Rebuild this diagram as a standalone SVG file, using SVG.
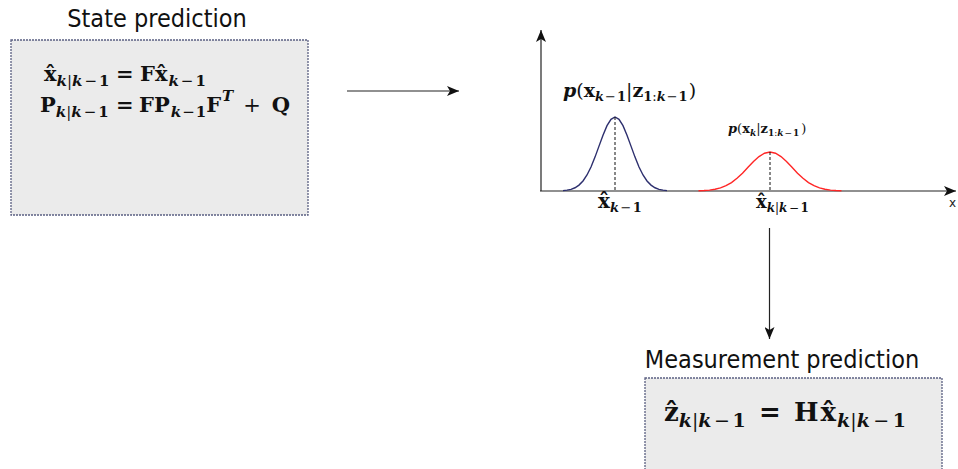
<svg xmlns="http://www.w3.org/2000/svg" width="958" height="469" viewBox="0 0 958 469">
<style>
.box{fill:#ebebeb;stroke:#5b6082;stroke-width:1.3;stroke-dasharray:2 1}
.title{font-family:"DejaVu Sans Condensed","DejaVu Sans",sans-serif;font-stretch:condensed;font-size:25px;fill:#111}
.m{font-family:"DejaVu Serif","Liberation Serif",serif;font-weight:bold;fill:#111}
.it{font-style:italic}
.rg{font-weight:normal}
.ax{stroke:#222;stroke-width:1.2;fill:none}
.dash{stroke:#111;stroke-width:1;stroke-dasharray:3 2}
.conn{stroke:#222;stroke-width:1.2;fill:none}
</style>
<defs>
<marker id="ah" viewBox="0 0 12 10" refX="12" refY="5" markerWidth="12" markerHeight="10" markerUnits="userSpaceOnUse" orient="auto">
<path d="M0,0 L12,5 L0,10 L3,5 Z" fill="#111"/>
</marker>
</defs>

<g id="state-prediction">
<text class="title" x="157" y="27" text-anchor="middle">State prediction</text>
<rect class="box" x="11" y="40" width="297" height="175"/>
<text class="m" font-size="21" x="44" y="81">x̂<tspan font-size="15" y="86"><tspan class="it">k</tspan><tspan class="rg">|</tspan><tspan class="it">k</tspan><tspan class="rg" dx="2">−</tspan><tspan dx="2">1</tspan></tspan><tspan x="116" y="81">=</tspan><tspan x="140" y="81">F</tspan><tspan>x̂</tspan><tspan font-size="15" y="86"><tspan class="it" dx="1">k</tspan><tspan class="rg" dx="2">−</tspan><tspan dx="2">1</tspan></tspan></text>
<text class="m" font-size="21" x="40" y="112">P<tspan font-size="15" y="117"><tspan class="it">k</tspan><tspan class="rg">|</tspan><tspan class="it">k</tspan><tspan class="rg" dx="2">−</tspan><tspan dx="2">1</tspan></tspan><tspan x="116" y="112">=</tspan><tspan x="139" y="112">F</tspan><tspan>P</tspan><tspan font-size="15" y="117"><tspan class="it" dx="1">k</tspan><tspan class="rg" dx="1">−</tspan><tspan dx="1">1</tspan></tspan><tspan y="112">F</tspan><tspan class="it" font-size="15" y="101" dx="1">T</tspan><tspan class="rg" y="112" dx="10">+</tspan><tspan dx="11">Q</tspan></text>
</g>

<g id="plot">
<line class="ax" x1="541" y1="191" x2="541" y2="30" marker-end="url(#ah)"/>
<line class="ax" x1="540" y1="191" x2="956" y2="191" marker-end="url(#ah)"/>
<text x="949" y="207" font-family="DejaVu Sans, sans-serif" font-size="12" fill="#222">x</text>
<polyline fill="none" stroke="#2d2f6e" stroke-width="1.4" points="563,190.62 567,190.18 571,189.31 575,187.75 579,185.11 583,181 587,175 591,166.97 595,157.12 599,146.12 603,135.14 607,125.69 611,119.28 615,117 619,119.28 623,125.69 627,135.14 631,146.12 635,157.12 639,166.97 643,175 647,181 651,185.11 655,187.75 659,189.31 663,190.18 667,190.62"/>
<polyline fill="none" stroke="#ff2626" stroke-width="1.4" points="698.5,190.8 704,190.57 709.5,190.11 715,189.29 720.5,187.9 726,185.72 731.5,182.56 737,178.34 742.5,173.15 748,167.35 753.5,161.56 759,156.58 764.5,153.2 770,152 775.5,153.2 781,156.58 786.5,161.56 792,167.35 797.5,173.15 803,178.34 808.5,182.56 814,185.72 819.5,187.9 825,189.29 830.5,190.11 836,190.57 841.5,190.8"/>
<line class="dash" x1="615" y1="117" x2="615" y2="191"/>
<line class="dash" x1="770" y1="152" x2="770" y2="191"/>
<text class="m" font-size="19" x="563" y="97"><tspan class="it">p</tspan><tspan class="rg">(</tspan>x<tspan font-size="13" y="101"><tspan class="it">k</tspan><tspan class="rg" dx="1">−</tspan><tspan dx="1">1</tspan></tspan><tspan class="rg" y="97">|</tspan>z<tspan font-size="13" y="101">1<tspan class="rg">:</tspan><tspan class="it">k</tspan><tspan class="rg" dx="1">−</tspan><tspan dx="1">1</tspan></tspan><tspan class="rg" y="97" dx="1">)</tspan></text>
<text class="m" font-size="13" x="728" y="133"><tspan class="it">p</tspan><tspan class="rg">(</tspan>x<tspan class="it" font-size="9" y="136">k</tspan><tspan class="rg" y="133">|</tspan>z<tspan font-size="9" y="136">1<tspan class="rg">:</tspan><tspan class="it">k</tspan><tspan class="rg" dx="1">−</tspan><tspan dx="1">1</tspan></tspan><tspan class="rg" y="133" dx="2">)</tspan></text>
<text class="m" font-size="20" x="598" y="208">x̂<tspan font-size="13" y="212"><tspan class="it">k</tspan><tspan class="rg" dx="1.5">−</tspan><tspan dx="1.5">1</tspan></tspan></text>
<text class="m" font-size="18" x="756" y="208">x̂<tspan font-size="12" y="212"><tspan class="it">k</tspan><tspan class="rg">|</tspan><tspan class="it">k</tspan><tspan class="rg" dx="1.5">−</tspan><tspan dx="1.5">1</tspan></tspan></text>
</g>

<g id="measurement-prediction">
<text class="title" x="782" y="368" text-anchor="middle">Measurement prediction</text>
<rect class="box" x="645" y="378" width="297" height="100"/>
<text class="m" font-size="26" x="664" y="421">ẑ<tspan font-size="19" y="427"><tspan class="it">k</tspan><tspan class="rg">|</tspan><tspan class="it">k</tspan><tspan class="rg" dx="2.5">−</tspan><tspan dx="2.5">1</tspan></tspan><tspan x="759" y="421">=</tspan><tspan x="794" y="421">H</tspan><tspan dx="2">x̂</tspan><tspan font-size="19" y="427"><tspan class="it" dx="1">k</tspan><tspan class="rg">|</tspan><tspan class="it">k</tspan><tspan class="rg" dx="3.5">−</tspan><tspan dx="3.5">1</tspan></tspan></text>
</g>

<g id="connectors">
<line class="conn" x1="347" y1="91" x2="459" y2="91" marker-end="url(#ah)"/>
<line class="conn" x1="769.5" y1="228" x2="769.5" y2="339" marker-end="url(#ah)"/>
</g>
</svg>
